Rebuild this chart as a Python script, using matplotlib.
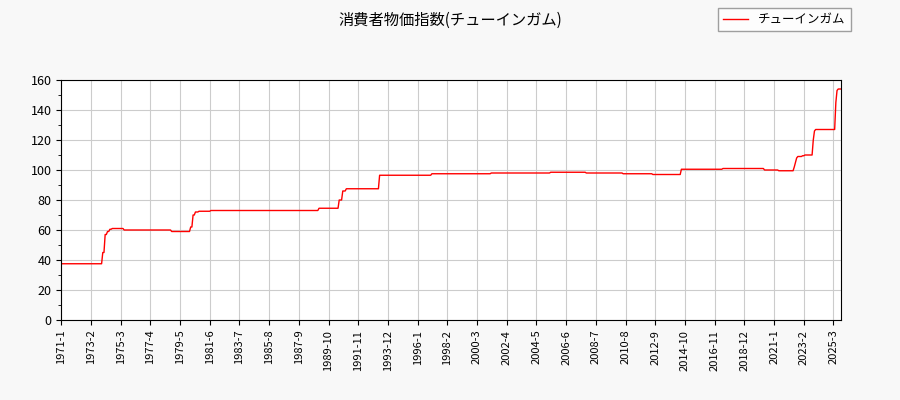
import matplotlib
matplotlib.use("Agg")
import matplotlib.pyplot as plt

plt.rcParams["font.family"] = ["Noto Sans CJK JP", "DejaVu Sans"]

# monthly index runs: (number of months, value)
run_lengths = [35, 2, 2, 2, 2, 10, 40, 16, 2, 2, 3, 10, 91, 17, 3, 3, 28, 44,
               30, 20, 30, 20, 30, 31, 25, 24, 35, 35, 12, 13]
run_values = [37.5, 45, 57, 59, 60.5, 61, 60, 59, 62, 70, 72, 72.5, 73, 74.5, 80, 86, 87.5, 96.5,
              97.5, 97.5, 98, 98, 98.5, 98, 97.5, 97, 100.5, 101, 100, 99.5]
tail_values = [102, 105, 108, 109, 109, 109, 109, 109.5, 109.5, 110, 110, 110, 110, 110, 110, 110,
               120, 126] + [127] * 17 + [145, 153, 154, 154, 154]

values = []
for n, v in zip(run_lengths, run_values):
    values += [v] * n
values += tail_values

start_year = 1971
labels = []
for i in range(len(values)):
    labels.append(f"{start_year + i // 12}-{i % 12 + 1}")

fig = plt.figure(figsize=(9, 4), dpi=100, facecolor="#f8f8f8")
ax = fig.add_axes([0.068, 0.2, 0.866, 0.6])
ax.plot(range(len(values)), values, color="red", lw=1, label="チューインガム")
ax.set_xlim(0, len(values) - 1)
ax.set_ylim(0, 160)
ax.set_yticks(range(0, 161, 20))
ax.set_yticks(range(0, 161, 10), minor=True)
ticks = list(range(0, len(values), 25))
ax.set_xticks(ticks)
ax.set_xticklabels([labels[t] for t in ticks], rotation=90, fontsize=8)
ax.tick_params(axis="y", labelsize=9)
ax.grid(True, color="#cccccc", lw=0.8)
ax.set_facecolor("white")
fig.suptitle("消費者物価指数(チューインガム)", fontsize=11, y=0.97)
fig.legend(loc="upper right", bbox_to_anchor=(0.952, 0.995), fontsize=9,
           fancybox=False, edgecolor="#888888")
fig.savefig("out.png", facecolor=fig.get_facecolor())
